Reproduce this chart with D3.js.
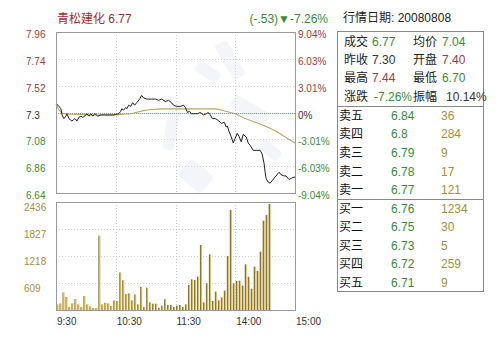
<!DOCTYPE html>
<html><head><meta charset="utf-8">
<script src="https://cdn.jsdelivr.net/npm/d3@7"></script>
<style>
body{margin:0;background:#fff;}
svg{display:block;font-family:"Liberation Sans",Arial,"Noto Sans CJK SC",sans-serif;}
</style></head><body>
<svg id="c" width="500" height="349"></svg>
<script>
// ---- data ----
const stockName = "青松建化";
const lastPrice = "6.77";
const changeText = "(-.53)";
const changePct = "-7.26%";
const quoteDate = "行情日期: 20080808";

const priceTicks = [7.96, 7.74, 7.52, 7.3, 7.08, 6.86, 6.64];
const pctTicks = ["9.04%", "6.03%", "3.01%", "0%", "-3.01%", "-6.03%", "-9.04%"];
const volTicks = [609, 1218, 1827, 2436];
const timeLabels = ["9:30", "10:30", "11:30", "14:00", "15:00"];
const timeTickMinutes = [0, 60, 120, 180, 240];
const prevClose = 7.3;

const priceMinutes = [0,2,5,6,8,10,11,13,16,19,21,23,25,27,30,31,33,35,37,39,42,45,58,60,63,65,66,68,70,71,73,75,77,79,81,84,86,88,91,93,96,100,103,106,110,113,116,118,121,125,128,130,132,134,136,139,142,145,148,151,153,155,157,160,162,165,166,169,171,172,174,176,178,180,182,184,186,188,191,193,195,198,201,205,207,209,210,211,213,215,217,220,222,224,226,229,231,234,236,239,240];
const prices = [7.37,7.36,7.33,7.28,7.25,7.27,7.29,7.25,7.23,7.25,7.23,7.26,7.27,7.26,7.28,7.29,7.27,7.29,7.27,7.29,7.27,7.28,7.28,7.285,7.29,7.31,7.33,7.32,7.34,7.33,7.36,7.35,7.38,7.36,7.38,7.41,7.44,7.42,7.41,7.41,7.41,7.41,7.40,7.41,7.39,7.40,7.38,7.36,7.35,7.35,7.36,7.34,7.30,7.31,7.29,7.29,7.29,7.30,7.28,7.29,7.30,7.28,7.25,7.25,7.24,7.22,7.21,7.22,7.18,7.19,7.14,7.10,7.05,7.09,7.13,7.10,7.06,7.12,7.10,7.05,7.03,6.99,6.99,6.99,6.96,6.88,6.81,6.76,6.73,6.72,6.74,6.77,6.79,6.81,6.79,6.78,6.78,6.75,6.76,6.77,6.77];

const avgMinutes = [0,3,8,20,40,60,65,75,85,95,110,125,140,150,160,170,180,190,200,210,220,230,240];
const avgPrices = [7.37,7.32,7.29,7.285,7.28,7.28,7.285,7.29,7.31,7.325,7.33,7.33,7.33,7.33,7.33,7.31,7.29,7.25,7.22,7.19,7.15,7.10,7.05];

// one bar per 3 minutes
const volumes = [128,150,400,293,68,150,248,128,68,316, 128,0,83,45,45,0,0,0,0,0, 0,1677,128,165,150,90,218,203,850,670, 361,376,218,353,128,526,68,504,173,143, 143,53,98,240,0,113,113,68,98,113, 68,128,564,692,677,752,1466,173,602,1256, 203,414,218,286,436,1218,2256,602,654,662, 549,1030,752,481,978,880,1316,2015,2143,2391];

const summaryLabelsL = ["成交", "昨收", "最高", "涨跌"];
const summaryValuesL = ["6.77", "7.30", "7.44", "-7.26%"];
const summaryLabelsR = ["均价", "开盘", "最低", "振幅"];
const summaryValuesR = ["7.04", "7.40", "6.70", "10.14%"];
const summaryDirL = ["down", "flat", "up", "down"];
const summaryDirR = ["down", "up", "down", "flat"];

const askLabels = ["卖五", "卖四", "卖三", "卖二", "卖一"];
const askPrices = ["6.84", "6.8", "6.79", "6.78", "6.77"];
const askVols = [36, 284, 9, 17, 121];
const bidLabels = ["买一", "买二", "买三", "买四", "买五"];
const bidPrices = ["6.76", "6.75", "6.73", "6.72", "6.71"];
const bidVols = [1234, 30, 5, 259, 9];

// ---- styles ----
const RED = "#a33a3a", GREEN = "#3a8a3a", DARK = "#333", OLIVE = "#a68e3e";
const dirColor = d => d === "up" ? RED : d === "down" ? GREEN : DARK;

const svg = d3.select("#c");
const L = 56, R = 295, PT = 32, PB = 193, VT = 202, VB = 310;

// faint watermark
const wm = svg.append("g").attr("fill", "#edf0f4").attr("opacity", 0.6);
[[208,72,26,12,35],[172,125,12,50,10],[196,176,30,22,40],[250,110,40,14,30],[230,60,14,40,-30],[270,150,24,12,40]].forEach(s=>{
  wm.append("rect").attr("x",-s[2]/2).attr("y",-s[3]/2).attr("width",s[2]).attr("height",s[3]).attr("rx",4)
    .attr("transform",`translate(${s[0]},${s[1]}) rotate(${s[4]})`);
});

const x = d3.scaleLinear().domain([0, 240]).range([L, R]);
const y = d3.scaleLinear().domain([6.64, 7.96]).range([PB, PT]);
const yv = d3.scaleLinear().domain([0, 2436]).range([VB, VT]);

const grid = svg.append("g").attr("stroke", "#cfcfcf").attr("stroke-dasharray", "1,2").attr("fill", "none");
priceTicks.filter(t => t !== prevClose && t !== 7.96 && t !== 6.64).forEach(t =>
  grid.append("line").attr("x1", L).attr("x2", R).attr("y1", Math.round(y(t)) + 0.5).attr("y2", Math.round(y(t)) + 0.5));
volTicks.filter(t => t !== 2436).forEach(t =>
  grid.append("line").attr("x1", L).attr("x2", R).attr("y1", Math.round(yv(t)) + 0.5).attr("y2", Math.round(yv(t)) + 0.5));
timeTickMinutes.slice(1, 4).forEach(m => {
  const xx = Math.round(x(m)) + 0.5;
  grid.append("line").attr("x1", xx).attr("x2", xx).attr("y1", PT).attr("y2", PB);
  grid.append("line").attr("x1", xx).attr("x2", xx).attr("y1", VT).attr("y2", VB);
});
// prev close line
svg.append("line").attr("x1", L).attr("x2", R).attr("y1", Math.round(y(prevClose)) + 0.5).attr("y2", Math.round(y(prevClose)) + 0.5)
  .attr("stroke", "#c8825a").attr("stroke-dasharray", "1,1");

// volume bars
const grad = svg.append("defs").append("linearGradient").attr("id", "bg").attr("x1", 0).attr("x2", 1).attr("y1", 0).attr("y2", 0);
grad.append("stop").attr("offset", "0%").attr("stop-color", "#8c7630");
grad.append("stop").attr("offset", "50%").attr("stop-color", "#8c7630");
grad.append("stop").attr("offset", "50%").attr("stop-color", "#d2b652");
grad.append("stop").attr("offset", "100%").attr("stop-color", "#d2b652");
svg.append("g").selectAll("rect").data(volumes).join("rect")
  .filter(d => d > 0)
  .attr("x", (d, i) => x(i * 3) + 0.5)
  .attr("width", 2)
  .attr("y", d => yv(d))
  .attr("height", d => VB - yv(d))
  .attr("fill", "url(#bg)");

// lines
const avgLine = d3.line().x((d, i) => x(avgMinutes[i])).y(d => y(d)).curve(d3.curveMonotoneX);
svg.append("path").attr("d", avgLine(avgPrices)).attr("fill", "none").attr("stroke", "#b9a468").attr("stroke-width", 1.1);
const pLine = d3.line().x((d, i) => x(priceMinutes[i])).y(d => y(d));
svg.append("path").attr("d", pLine(prices)).attr("fill", "none").attr("stroke", "#222").attr("stroke-width", 1);

// frames
svg.append("rect").attr("x", L + 0.5).attr("y", PT + 0.5).attr("width", R - L).attr("height", PB - PT).attr("fill", "none").attr("stroke", "#999");
svg.append("rect").attr("x", L + 0.5).attr("y", VT + 0.5).attr("width", R - L).attr("height", VB - VT).attr("fill", "none").attr("stroke", "#999");

// axis labels
const fs = "10px";
priceTicks.forEach((t, i) => {
  const c = t > prevClose ? RED : t < prevClose ? GREEN : DARK;
  svg.append("text").attr("x", 26).attr("y", y(t) + 3.5).attr("dominant-baseline", "middle")
    .attr("font-size", fs).attr("fill", c).text(t.toString());
  svg.append("text").attr("x", 298).attr("y", y(t) + 3.5).attr("dominant-baseline", "middle")
    .attr("font-size", fs).attr("fill", c).text(pctTicks[i]);
});
volTicks.forEach(t => {
  svg.append("text").attr("x", 24).attr("y", yv(t) + 6.5).attr("dominant-baseline", "middle")
    .attr("font-size", fs).attr("fill", OLIVE).text(t);
});
timeLabels.forEach((t, i) => {
  svg.append("text").attr("x", x(timeTickMinutes[i]) + 1).attr("y", 322).attr("dominant-baseline", "middle")
    .attr("font-size", fs).attr("fill", DARK).text(t);
});

// header
svg.append("text").attr("x", 57).attr("y", 20).attr("dominant-baseline", "middle").attr("font-size", "12px")
  .attr("fill", "#9a2e2e").text(stockName + " " + lastPrice);
svg.append("text").attr("x", 328).attr("y", 20).attr("dominant-baseline", "middle").attr("text-anchor", "end")
  .attr("font-size", "12px").attr("fill", GREEN).text(changeText + "▼" + changePct);

// right panel
const P0 = 337, P1 = 483;
svg.append("text").attr("x", 343).attr("y", 18.5).attr("dominant-baseline", "middle").attr("font-size", "12px")
  .attr("fill", "#222").text(quoteDate);
svg.append("rect").attr("x", P0 + 0.5).attr("y", 31.5).attr("width", P1 - P0).attr("height", 260).attr("fill", "none").attr("stroke", "#888");
[106, 199].forEach(yy => svg.append("line").attr("x1", P0).attr("x2", P1).attr("y1", yy + 0.5).attr("y2", yy + 0.5).attr("stroke", "#888"));

const rowY = [42.7, 61, 79.3, 97.7];
summaryLabelsL.forEach((lab, i) => {
  const g = svg.append("g").attr("font-size", "12px").attr("dominant-baseline", "middle");
  g.append("text").attr("x", 344).attr("y", rowY[i]).attr("fill", "#222").text(lab);
  g.append("text").attr("x", i === 3 ? 374 : 372).attr("y", rowY[i]).attr("fill", dirColor(summaryDirL[i])).text(summaryValuesL[i]);
  g.append("text").attr("x", 413).attr("y", rowY[i]).attr("fill", "#222").text(summaryLabelsR[i]);
  g.append("text").attr("x", i === 3 ? 446 : 442).attr("y", rowY[i]).attr("fill", dirColor(summaryDirR[i])).text(summaryValuesR[i]);
});

const bookY0 = 116.7, bookStep = 18.6;
const bookLabels = askLabels.concat(bidLabels);
const bookPrices = askPrices.concat(bidPrices);
const bookVols = askVols.concat(bidVols);
bookLabels.forEach((lab, i) => {
  const yy = bookY0 + i * bookStep - (i >= 5 ? 0.3 : 0);
  const g = svg.append("g").attr("font-size", "12px").attr("dominant-baseline", "middle");
  g.append("text").attr("x", 339).attr("y", yy).attr("fill", "#111").text(lab);
  g.append("text").attr("x", 391).attr("y", yy).attr("fill", GREEN).text(bookPrices[i]);
  g.append("text").attr("x", 441).attr("y", yy).attr("fill", OLIVE).text(bookVols[i]);
});
</script>
</body></html>
